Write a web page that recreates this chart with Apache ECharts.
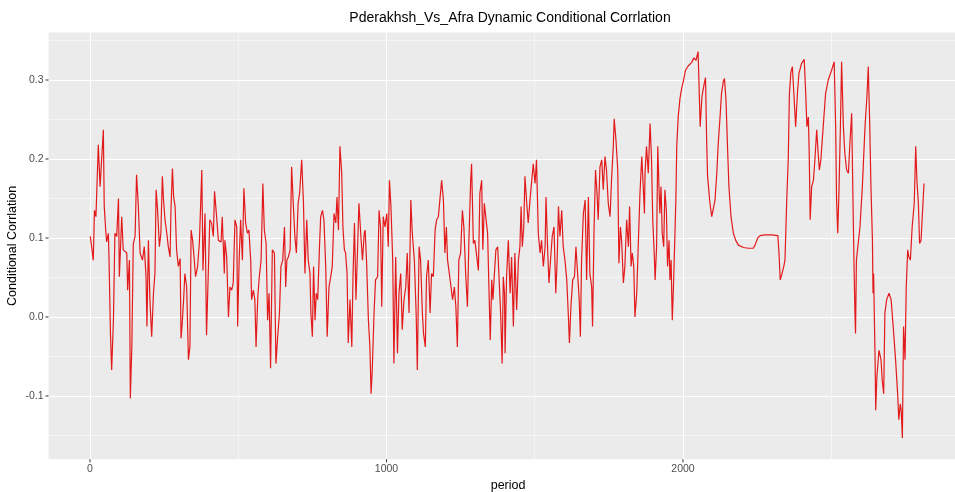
<!DOCTYPE html>
<html>
<head>
<meta charset="utf-8">
<script src="https://cdn.jsdelivr.net/npm/echarts@6/dist/echarts.min.js"></script>
<style>
  html, body { margin: 0; padding: 0; background: #fff; }
  #chart { width: 955px; height: 492px; }
</style>
</head>
<body>
<div id="chart"></div>
<script>
// periods and conditional correlation values
var periods = [
  1, 11, 15, 20, 28, 34, 45, 48, 53, 56, 62, 64, 69, 73, 79, 84, 90, 96, 99, 107, 112, 124, 127, 133, 136, 141, 146, 152, 157, 163, 169, 177, 183, 189, 192, 197, 202, 208, 214, 219, 223, 228, 234, 239, 244, 248, 253, 259, 264, 270, 273, 278, 282, 287, 292, 298, 304, 307, 311, 316, 320, 326, 332, 337, 341, 346, 351, 356, 363, 369, 374, 377, 381, 388, 393, 397, 404, 410, 416, 420, 427, 433, 442, 446, 453,
  455, 461, 467, 472, 478, 483, 489, 495, 498, 503, 508, 514, 519, 525, 531, 536, 542, 545, 551, 556, 560, 566, 571, 577, 583, 588, 594, 599, 604, 609, 615, 622, 627, 633, 639, 644, 650, 656, 660, 664, 669, 675, 680, 686, 691, 696, 702, 707, 714, 720, 725, 731, 736, 742, 745, 750, 754, 759, 763, 768, 774, 778, 784, 789, 795, 800, 806, 812, 817, 823, 829, 833, 838, 843, 849, 853, 858, 862, 867, 871, 877, 883, 887, 892, 897, 903, 907, 913, 919, 925,
  928, 933, 939, 944, 948, 952, 958, 963, 970, 975, 980, 984, 989, 995, 1001, 1006, 1010, 1015, 1021, 1025, 1031, 1037, 1042, 1048, 1053, 1059, 1065, 1070, 1076, 1082, 1087, 1094, 1100, 1104, 1110, 1115, 1121, 1125, 1131, 1135, 1141, 1147, 1152, 1158, 1164, 1169, 1175, 1180, 1186, 1192, 1197, 1202, 1206, 1212, 1218, 1223, 1229, 1234, 1239, 1244, 1250, 1256, 1261, 1267, 1273, 1278, 1284, 1287, 1293, 1298, 1304, 1310, 1315, 1321, 1325, 1330, 1336, 1341, 1346, 1350, 1355, 1359, 1364, 1369, 1375, 1381, 1385, 1390, 1394, 1398,
  1400, 1405, 1411, 1417, 1422, 1428, 1433, 1439, 1445, 1450, 1454, 1458, 1463, 1467, 1473, 1478, 1484, 1490, 1495, 1501, 1506, 1512, 1518, 1523, 1529, 1535, 1538, 1544, 1548, 1554, 1559, 1565, 1571, 1576, 1580, 1585, 1591, 1596, 1602, 1608, 1613, 1617, 1622, 1628, 1634, 1639, 1645, 1650, 1654, 1658, 1664, 1670, 1675, 1681, 1686, 1692, 1695, 1700, 1705, 1710, 1714, 1720, 1726, 1731, 1737, 1742, 1748, 1754, 1759, 1765, 1768, 1774, 1780, 1784, 1789, 1793, 1799, 1804, 1810, 1816, 1820, 1825, 1829, 1834, 1838, 1844, 1849, 1855, 1861, 1865, 1870,
  1872, 1877, 1883, 1889, 1894, 1898, 1903, 1906, 1911, 1915, 1919, 1922, 1926, 1930, 1935, 1939, 1944, 1948, 1953, 1956, 1960, 1962, 1964, 1968, 1972, 1976, 1979, 1984, 1990, 1996, 2001, 2008, 2018, 2029, 2037, 2044, 2051, 2055, 2058, 2064, 2072, 2076, 2080, 2083, 2091, 2097, 2102, 2108, 2114, 2119, 2125, 2130, 2136, 2140, 2145, 2151, 2155, 2162, 2170, 2178, 2187, 2204, 2220, 2237, 2243, 2252, 2260, 2277, 2299, 2320, 2324, 2328, 2334, 2340, 2344,
  2350, 2355, 2359, 2364, 2369, 2374, 2380, 2386, 2391, 2400, 2409, 2414, 2418, 2423, 2426, 2429, 2434, 2440, 2445, 2451, 2456, 2460, 2465, 2473, 2481, 2490, 2501, 2510, 2515, 2518, 2522, 2526, 2531, 2535, 2541, 2546, 2552, 2558, 2563, 2569, 2573, 2577, 2580, 2582, 2585, 2591, 2597, 2605, 2614, 2621, 2625, 2630, 2634, 2639, 2641, 2643, 2648, 2650, 2654, 2661, 2668, 2672, 2677, 2681, 2687, 2695, 2702, 2709, 2717, 2724, 2728, 2733, 2736, 2740, 2744, 2749, 2753, 2758, 2762, 2767, 2773, 2780, 2785, 2789, 2794, 2798, 2803, 2807, 2813
];
var values = [
  0.102, 0.072, 0.135, 0.127, 0.218, 0.165, 0.237, 0.140, 0.110, 0.095, 0.106, 0.076, -0.021, -0.067, -0.004, 0.106, 0.102, 0.150, 0.051, 0.127, 0.085, 0.081, 0.034, 0.072, -0.103, -0.038, 0.093, 0.102, 0.180, 0.140, 0.081, 0.072, 0.089, 0.051, -0.012, 0.097, 0.022, -0.025, 0.030, 0.055, 0.161, 0.135, 0.089, 0.106, 0.178, 0.148, 0.123, 0.106, 0.089, 0.076, 0.135, 0.188, 0.152, 0.140, 0.085, 0.064, 0.074, -0.027, -0.008, 0.024, 0.055, 0.038, -0.054, -0.038, 0.110, 0.097, 0.076, 0.051, 0.064, 0.095, 0.097, 0.186, 0.059, 0.131, -0.023, 0.030, 0.123, 0.119, 0.102, 0.159, 0.127, 0.097, 0.095, 0.127, 0.055,
  0.097, 0.076, 0.000, 0.038, 0.034, 0.043, 0.123, 0.114, -0.012, 0.072, 0.123, 0.072, 0.163, 0.119, 0.106, 0.110, 0.072, 0.022, 0.034, 0.022, -0.038, 0.026, 0.051, 0.072, 0.169, 0.110, 0.093, -0.004, 0.030, -0.065, 0.085, 0.081, -0.059, -0.025, 0.005, 0.064, 0.072, 0.114, 0.038, 0.072, 0.076, 0.085, 0.190, 0.140, 0.102, 0.081, 0.144, 0.157, 0.199, 0.144, 0.055, 0.123, 0.072, 0.055, 0.005, -0.025, 0.064, -0.004, 0.030, 0.022, 0.089, 0.127, 0.135, 0.123, 0.064, -0.025, 0.038, 0.051, 0.064, 0.131, 0.119, 0.152, 0.110, 0.216, 0.182, 0.114, 0.085, 0.081, 0.055, -0.033, 0.022, -0.038, 0.051, 0.119, 0.022, 0.093, 0.144, 0.106, 0.072, 0.106,
  0.110, 0.068, -0.004, -0.038, -0.097, -0.067, 0.005, 0.047, 0.051, 0.135, 0.114, 0.013, 0.127, 0.114, 0.131, 0.089, 0.173, 0.140, 0.072, -0.059, 0.076, -0.046, 0.030, 0.055, -0.016, 0.022, 0.038, 0.081, 0.005, 0.148, 0.106, 0.072, 0.005, -0.067, 0.089, 0.072, 0.005, -0.021, -0.038, 0.051, 0.072, 0.005, 0.055, 0.051, 0.110, 0.123, 0.127, 0.148, 0.173, 0.148, 0.081, 0.114, 0.072, 0.055, 0.055, 0.022, 0.038, 0.013, -0.038, 0.072, 0.081, 0.135, 0.114, 0.055, 0.013, 0.097, 0.173, 0.194, 0.093, 0.097, 0.097, 0.059, 0.157, 0.173, 0.085, 0.144, 0.123, 0.106, 0.030, -0.029, 0.047, 0.022, 0.055, 0.085, 0.089, 0.038, 0.005, -0.059, 0.051, 0.030,
  -0.046, 0.051, 0.097, 0.030, 0.076, -0.012, 0.081, 0.009, 0.072, 0.089, 0.140, 0.089, 0.114, 0.178, 0.144, 0.119, 0.148, 0.173, 0.194, 0.169, 0.199, 0.106, 0.081, 0.097, 0.064, 0.089, 0.152, 0.081, 0.043, 0.076, 0.102, 0.114, 0.030, 0.076, 0.140, 0.102, 0.135, 0.089, 0.072, 0.047, 0.005, -0.033, 0.013, 0.047, 0.051, 0.089, 0.089, 0.022, -0.025, 0.072, 0.131, 0.148, 0.047, 0.152, 0.055, 0.038, -0.012, 0.110, 0.186, 0.157, 0.123, 0.190, 0.199, 0.161, 0.203, 0.186, 0.144, 0.127, 0.173, 0.216, 0.251, 0.224, 0.186, 0.068, 0.114, 0.097, 0.043, 0.064, 0.123, 0.089, 0.140, 0.064, 0.081, 0.064, 0.000, 0.030, 0.089, 0.157, 0.203, 0.173, 0.131,
  0.182, 0.216, 0.182, 0.245, 0.199, 0.123, 0.081, 0.047, 0.089, 0.216, 0.165, 0.131, 0.165, 0.106, 0.089, 0.161, 0.135, 0.064, 0.097, 0.047, 0.072, 0.030, -0.004, 0.040, 0.093, 0.148, 0.216, 0.254, 0.277, 0.290, 0.298, 0.312, 0.318, 0.322, 0.328, 0.325, 0.336, 0.283, 0.241, 0.279, 0.296, 0.303, 0.220, 0.178, 0.144, 0.127, 0.127, 0.148, 0.182, 0.220, 0.253, 0.283, 0.298, 0.302, 0.275, 0.207, 0.165, 0.127, 0.106, 0.097, 0.091, 0.088, 0.087, 0.087, 0.091, 0.100, 0.103, 0.104, 0.104, 0.103, 0.080, 0.047, 0.055, 0.064, 0.072,
  0.148, 0.199, 0.283, 0.310, 0.317, 0.283, 0.241, 0.283, 0.308, 0.321, 0.326, 0.283, 0.241, 0.253, 0.203, 0.123, 0.165, 0.173, 0.199, 0.237, 0.207, 0.186, 0.199, 0.241, 0.283, 0.300, 0.312, 0.323, 0.241, 0.148, 0.106, 0.157, 0.241, 0.323, 0.241, 0.207, 0.186, 0.182, 0.220, 0.258, 0.157, 0.064, 0.005, -0.021, 0.072, 0.072, 0.114, 0.165, 0.241, 0.283, 0.317, 0.241, 0.165, 0.097, 0.030, 0.055, -0.054, -0.118, -0.076, -0.042, -0.054, -0.080, -0.097, 0.005, 0.022, 0.030, 0.022, -0.012, -0.054, -0.097, -0.130, -0.110, -0.118, -0.153, -0.012, -0.054, 0.038, 0.085, 0.076, 0.072, 0.114, 0.144, 0.216, 0.173, 0.144, 0.093, 0.097, 0.127, 0.169
];
var xTickLabels = [0, 1000, 2000];
var yTickLabels = [-0.1, 0.0, 0.1, 0.2, 0.3];

var seriesData = periods.map(function (p, i) { return [p, values[i]]; });

// grid lines every step: major + minor colours picked by tick index
function gridColors(len, majorIdx, minorIdx) {
  var arr = [];
  for (var i = 0; i < len; i++) arr.push('rgba(0,0,0,0)');
  arr[majorIdx] = '#ffffff';
  arr[minorIdx] = '#f5f5f5';
  return arr;
}

var labelFont = { fontFamily: 'Liberation Sans', fontSize: 10.5, color: '#4d4d4d' };
var nameFont = { fontFamily: 'Liberation Sans', fontSize: 12.5, color: '#000' };

var chart = echarts.init(document.getElementById('chart'));

var option = {
  animation: false,
  backgroundColor: '#ffffff',
  title: {
    text: 'Pderakhsh_Vs_Afra Dynamic Conditional Corrlation',
    left: 505,
    top: 6,
    textAlign: 'center',
    textStyle: { fontFamily: 'Liberation Sans', fontSize: 14, fontWeight: 'normal', color: '#000' }
  },
  grid: {
    left: 48.5, right: -12.6, top: 32.6, bottom: 32.8,
    outerBoundsMode: 'none',
    containLabel: false,
    show: true, backgroundColor: '#ebebeb', borderWidth: 0
  },
  xAxis: {
    type: 'value',
    min: -140, max: 2960, interval: 10,
    name: 'period',
    nameLocation: 'middle',
    nameGap: 16,
    nameTextStyle: nameFont,
    axisLine: { show: false },
    axisTick: { show: false },
    axisLabel: {
      margin: 0,
      formatter: function (v) {
        var r = Math.round(v);
        return xTickLabels.indexOf(r) >= 0 ? '{t|}\n{v|' + r + '}' : '';
      },
      rich: {
        t: { width: 1, height: 3, backgroundColor: '#333333', align: 'center' },
        v: Object.assign({ padding: [1, 0, 0, 0], align: 'center' }, labelFont)
      }
    },
    splitLine: { show: true, lineStyle: { width: 1, color: gridColors(100, 14, 64) } }
  },
  yAxis: {
    type: 'value',
    min: -0.18, max: 0.36, interval: 0.01,
    name: 'Conditional Corrlation',
    nameLocation: 'middle',
    nameGap: 29,
    nameMoveOverlap: false,
    nameTextStyle: nameFont,
    axisLine: { show: false },
    axisTick: { show: false },
    axisLabel: {
      margin: 0,
      formatter: function (v) {
        for (var i = 0; i < yTickLabels.length; i++) {
          if (Math.abs(v - yTickLabels[i]) < 1e-6) return '{v|' + yTickLabels[i].toFixed(1) + '}{g|}{t|}';
        }
        return '';
      },
      rich: {
        v: labelFont,
        g: { width: 2, height: 1 },
        t: { width: 3, height: 1, backgroundColor: '#333333' }
      }
    },
    splitLine: { show: true, lineStyle: { width: 1, color: gridColors(10, 8, 3) } }
  },
  series: [{
    type: 'line',
    data: seriesData,
    showSymbol: false,
    lineStyle: { color: '#e31a1c', width: 1.2 },
    z: 3
  }]
};

chart.setOption(option);
</script>
</body>
</html>
